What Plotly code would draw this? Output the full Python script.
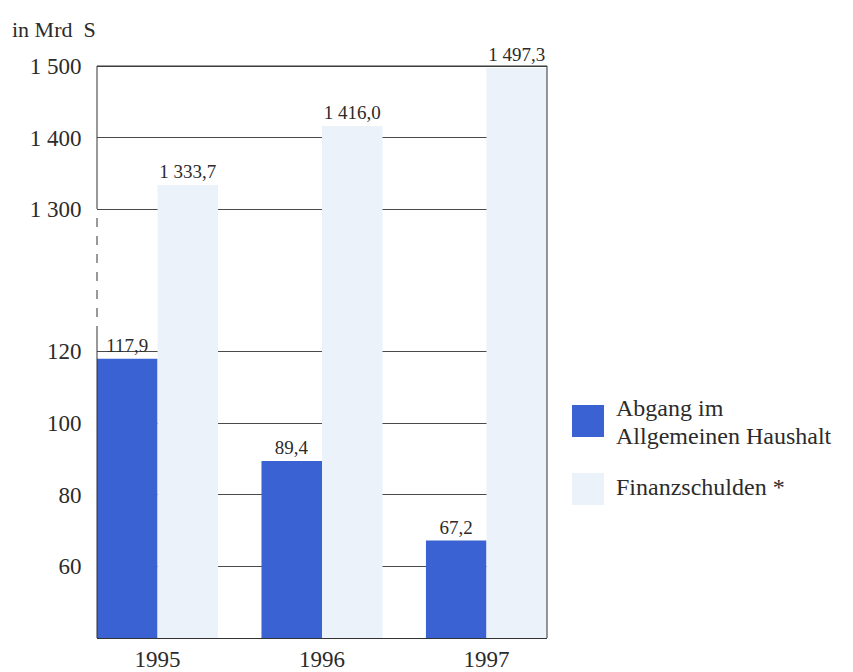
import plotly.graph_objects as go

# ---- data ----
years = ["1995", "1996", "1997"]
abgang = [117.9, 89.4, 67.2]
finanzschulden = [1333.7, 1416.0, 1497.3]
abgang_labels = ["117,9", "89,4", "67,2"]
finanz_labels = ["1 333,7", "1 416,0", "1 497,3"]
lower_ticks = [60, 80, 100, 120]
lower_ticktext = ["60", "80", "100", "120"]
upper_ticks = [1300, 1400, 1500]
upper_ticktext = ["1 300", "1 400", "1 500"]

BLUE = "#3b62d2"
LIGHT = "#ebf2fa"
TXT = "#2b2b2b"
GRID = "#4a4a4a"
FONT = "Liberation Serif, Times New Roman, serif"

W, H = 853, 672
# pixel layout
PL, PR = 97, 547          # plot left/right
PB = 638                   # bottom of plot (value 40)
PT = 23                    # top of plot area (upper range max)
SPLIT = 280                # boundary pixel between lower/upper axes
plot_h = PB - PT


def py(p):
    return (PB - p) / plot_h


def pxx(p):
    return (p - PL) / (PR - PL)


bw = 0.368
fig = go.Figure()

VFONT = dict(family=FONT, size=19, color=TXT)

# lower subplot
fig.add_trace(go.Bar(x=years, y=abgang, width=bw, offset=-bw, marker_color=BLUE,
                     marker_line_width=0, text=abgang_labels, textposition="outside",
                     textfont=VFONT,
                     name="Abgang im Allgemeinen Haushalt", showlegend=False,
                     xaxis="x", yaxis="y"))
fig.add_trace(go.Bar(x=years, y=finanzschulden, width=bw, offset=0, marker_color=LIGHT,
                     marker_line_width=0, name="Finanzschulden *", showlegend=False,
                     xaxis="x", yaxis="y"))
# upper subplot
fig.add_trace(go.Bar(x=years, y=finanzschulden, width=bw, offset=0, marker_color=LIGHT,
                     marker_line_width=0, text=finanz_labels, textposition="outside",
                     textfont=VFONT,
                     name="Finanzschulden *", showlegend=False,
                     xaxis="x", yaxis="y2"))

lower_scale = (566 - 351) / 60.0
lower_top_val = 40 + (PB - SPLIT) / lower_scale
upper_scale = (209 - 66) / 200.0
upper_bottom_val = 1500 - (SPLIT - 66) / upper_scale
upper_top_val = 1500 + (66 - PT) / upper_scale

TICKFONT = dict(family=FONT, size=23, color=TXT)

fig.update_layout(
    width=W, height=H,
    margin=dict(l=PL, r=W - PR, t=PT, b=H - PB, autoexpand=False),
    paper_bgcolor="white", plot_bgcolor="white",
    barmode="overlay",
    font=dict(family=FONT, color=TXT, size=21),
    xaxis=dict(type="category", range=[-bw, 2 + bw], showgrid=False,
               showline=True, linecolor="#333", linewidth=1,
               ticks="", ticklen=0,
               tickfont=dict(family=FONT, size=23, color=TXT), anchor="y",
               automargin=False),
    yaxis=dict(domain=[0, py(SPLIT)], range=[40, lower_top_val],
               tickvals=lower_ticks, ticktext=lower_ticktext,
               showgrid=True, gridcolor=GRID, gridwidth=1, zeroline=False,
               showline=False, ticks="outside", ticklen=10,
               tickcolor="rgba(0,0,0,0)", automargin=False,
               tickfont=TICKFONT),
    yaxis2=dict(domain=[py(SPLIT), 1], range=[upper_bottom_val, upper_top_val],
                tickvals=upper_ticks, ticktext=upper_ticktext,
                showgrid=True, gridcolor=GRID, gridwidth=1, zeroline=False,
                showline=False, ticks="outside", ticklen=10,
                tickcolor="rgba(0,0,0,0)", anchor="x", automargin=False,
                tickfont=TICKFONT),
)

line = dict(color="#333", width=1)
shapes = [
    # top border
    dict(type="line", xref="paper", yref="paper", x0=0, x1=1, y0=py(66), y1=py(66), line=line),
    # right border
    dict(type="line", xref="paper", yref="paper", x0=1, x1=1, y0=0, y1=py(66), line=line),
    # left solid upper
    dict(type="line", xref="paper", yref="paper", x0=0, x1=0, y0=py(209), y1=py(66), line=line),
    # left dashed break
    dict(type="line", xref="paper", yref="paper", x0=0, x1=0, y0=py(335), y1=py(209),
         line=dict(color="#333", width=1, dash="dash")),
    # left solid lower
    dict(type="line", xref="paper", yref="paper", x0=0, x1=0, y0=0, y1=py(335), line=line),
    # legend swatches
    dict(type="rect", xref="paper", yref="paper", x0=pxx(572), x1=pxx(604),
         y0=py(437), y1=py(405), fillcolor=BLUE, line=dict(width=0)),
    dict(type="rect", xref="paper", yref="paper", x0=pxx(572), x1=pxx(604),
         y0=py(505), y1=py(473), fillcolor=LIGHT, line=dict(width=0)),
]
fig.update_layout(shapes=shapes)

LFONT = dict(family=FONT, size=24, color=TXT)
ann = [
    dict(text="in Mrd  S", x=pxx(10), y=py(30), xanchor="left", yanchor="middle",
         font=dict(family=FONT, size=22, color=TXT)),
    dict(text="Abgang im", x=pxx(614), y=py(408), xanchor="left", yanchor="middle",
         font=LFONT),
    dict(text="Allgemeinen Haushalt", x=pxx(614), y=py(436), xanchor="left", yanchor="middle",
         font=LFONT),
    dict(text="Finanzschulden *", x=pxx(614), y=py(487), xanchor="left", yanchor="middle",
         font=LFONT),
]
for a in ann:
    a.update(xref="paper", yref="paper", showarrow=False)
fig.update_layout(annotations=ann)

fig.write_html("out.html")
